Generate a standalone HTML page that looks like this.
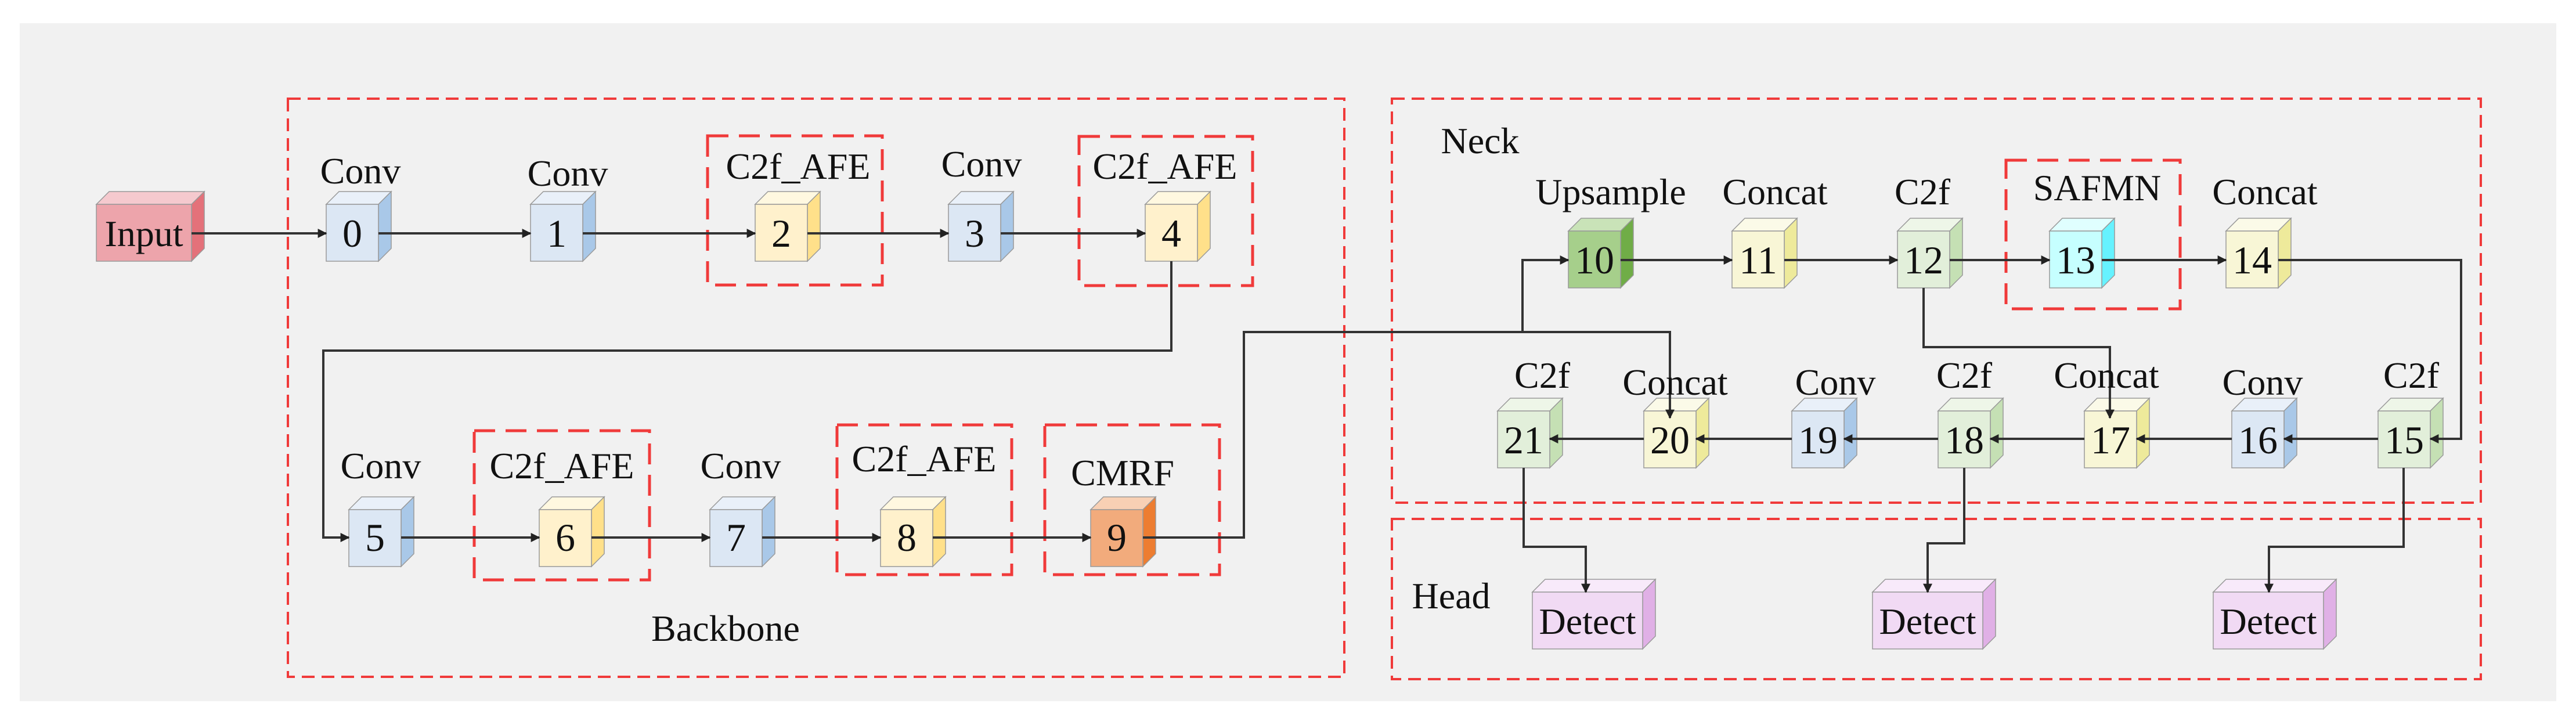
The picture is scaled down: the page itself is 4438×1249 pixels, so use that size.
<!DOCTYPE html>
<html><head><meta charset="utf-8"><style>
html,body{margin:0;padding:0;background:#fff;}
svg{display:block;}
text{font-family:"Liberation Serif",serif;fill:#111;}
.l{font-size:64px;text-anchor:middle;}
.n{font-size:68px;text-anchor:middle;}
.w{fill:none;stroke:#333;stroke-width:4;}
.r{fill:none;stroke:#f03a3a;stroke-width:4;stroke-dasharray:22 12;}
.rb{fill:none;stroke:#f03a3a;stroke-width:5;stroke-dasharray:36 18;}
.e{stroke:#999;stroke-width:1.5;}
</style></head><body>
<svg width="4438" height="1249" viewBox="0 0 4438 1249" xmlns="http://www.w3.org/2000/svg">
<defs><marker id="a" viewBox="0 0 10 10" refX="9" refY="5" markerWidth="4" markerHeight="4" orient="auto"><path d="M0,0L10,5L0,10z" fill="#222"/></marker></defs>
<rect x="34" y="40" width="4370" height="1168" fill="#f1f1f1"/>
<rect class="r" x="496" y="170" width="1820" height="996"/>
<rect class="r" x="2398" y="170" width="1876" height="696"/>
<rect class="r" x="2398" y="894" width="1876" height="276"/>
<rect class="rb" x="1219" y="234" width="301" height="257"/>
<rect class="rb" x="1859" y="235" width="299" height="257"/>
<rect class="rb" x="817" y="742" width="302" height="257"/>
<rect class="rb" x="1442" y="732" width="301" height="258"/>
<rect class="rb" x="1800" y="732" width="301" height="258"/>
<rect class="rb" x="3456" y="276" width="300" height="256"/>
<g class="e">
<polygon points="166,352 188,330 352,330 330,352" fill="#f5c9ce"/><polygon points="330,352 352,330 352,428 330,450" fill="#e4717a"/><rect x="166" y="352" width="164" height="98" fill="#eda4ab"/>
<polygon points="562,352 584,330 674,330 652,352" fill="#e9f0f9"/><polygon points="652,352 674,330 674,428 652,450" fill="#a9c8e8"/><rect x="562" y="352" width="90" height="98" fill="#dce7f4"/>
<polygon points="914,352 936,330 1026,330 1004,352" fill="#e9f0f9"/><polygon points="1004,352 1026,330 1026,428 1004,450" fill="#a9c8e8"/><rect x="914" y="352" width="90" height="98" fill="#dce7f4"/>
<polygon points="1634,352 1656,330 1746,330 1724,352" fill="#e9f0f9"/><polygon points="1724,352 1746,330 1746,428 1724,450" fill="#a9c8e8"/><rect x="1634" y="352" width="90" height="98" fill="#dce7f4"/>
<polygon points="1301,352 1323,330 1413,330 1391,352" fill="#fff8e0"/><polygon points="1391,352 1413,330 1413,428 1391,450" fill="#ffe08a"/><rect x="1301" y="352" width="90" height="98" fill="#fff1cc"/>
<polygon points="1973,352 1995,330 2085,330 2063,352" fill="#fff8e0"/><polygon points="2063,352 2085,330 2085,428 2063,450" fill="#ffe08a"/><rect x="1973" y="352" width="90" height="98" fill="#fff1cc"/>
<polygon points="601,878 623,856 713,856 691,878" fill="#e9f0f9"/><polygon points="691,878 713,856 713,954 691,976" fill="#a9c8e8"/><rect x="601" y="878" width="90" height="98" fill="#dce7f4"/>
<polygon points="929,878 951,856 1041,856 1019,878" fill="#fff8e0"/><polygon points="1019,878 1041,856 1041,954 1019,976" fill="#ffe08a"/><rect x="929" y="878" width="90" height="98" fill="#fff1cc"/>
<polygon points="1223,878 1245,856 1335,856 1313,878" fill="#e9f0f9"/><polygon points="1313,878 1335,856 1335,954 1313,976" fill="#a9c8e8"/><rect x="1223" y="878" width="90" height="98" fill="#dce7f4"/>
<polygon points="1517,878 1539,856 1629,856 1607,878" fill="#fff8e0"/><polygon points="1607,878 1629,856 1629,954 1607,976" fill="#ffe08a"/><rect x="1517" y="878" width="90" height="98" fill="#fff1cc"/>
<polygon points="1879,878 1901,856 1991,856 1969,878" fill="#f8d0b4"/><polygon points="1969,878 1991,856 1991,954 1969,976" fill="#ed7d31"/><rect x="1879" y="878" width="90" height="98" fill="#f2ab7c"/>
<polygon points="2702,398 2724,376 2814,376 2792,398" fill="#c9e3b8"/><polygon points="2792,398 2814,376 2814,474 2792,496" fill="#70ad47"/><rect x="2702" y="398" width="90" height="98" fill="#a6cf8b"/>
<polygon points="2984,398 3006,376 3096,376 3074,398" fill="#fbfae8"/><polygon points="3074,398 3096,376 3096,474 3074,496" fill="#eeea9b"/><rect x="2984" y="398" width="90" height="98" fill="#f8f6d6"/>
<polygon points="3269,398 3291,376 3381,376 3359,398" fill="#eef6e8"/><polygon points="3359,398 3381,376 3381,474 3359,496" fill="#c5e0b4"/><rect x="3269" y="398" width="90" height="98" fill="#e2efda"/>
<polygon points="3531,398 3553,376 3643,376 3621,398" fill="#e0ffff"/><polygon points="3621,398 3643,376 3643,474 3621,496" fill="#66f2ff"/><rect x="3531" y="398" width="90" height="98" fill="#c6ffff"/>
<polygon points="3835,398 3857,376 3947,376 3925,398" fill="#fbfae8"/><polygon points="3925,398 3947,376 3947,474 3925,496" fill="#eeea9b"/><rect x="3835" y="398" width="90" height="98" fill="#f8f6d6"/>
<polygon points="2580,708 2602,686 2692,686 2670,708" fill="#eef6e8"/><polygon points="2670,708 2692,686 2692,784 2670,806" fill="#c5e0b4"/><rect x="2580" y="708" width="90" height="98" fill="#e2efda"/>
<polygon points="2832,708 2854,686 2944,686 2922,708" fill="#fbfae8"/><polygon points="2922,708 2944,686 2944,784 2922,806" fill="#eeea9b"/><rect x="2832" y="708" width="90" height="98" fill="#f8f6d6"/>
<polygon points="3087,708 3109,686 3199,686 3177,708" fill="#e9f0f9"/><polygon points="3177,708 3199,686 3199,784 3177,806" fill="#a9c8e8"/><rect x="3087" y="708" width="90" height="98" fill="#dce7f4"/>
<polygon points="3339,708 3361,686 3451,686 3429,708" fill="#eef6e8"/><polygon points="3429,708 3451,686 3451,784 3429,806" fill="#c5e0b4"/><rect x="3339" y="708" width="90" height="98" fill="#e2efda"/>
<polygon points="3591,708 3613,686 3703,686 3681,708" fill="#fbfae8"/><polygon points="3681,708 3703,686 3703,784 3681,806" fill="#eeea9b"/><rect x="3591" y="708" width="90" height="98" fill="#f8f6d6"/>
<polygon points="3845,708 3867,686 3957,686 3935,708" fill="#e9f0f9"/><polygon points="3935,708 3957,686 3957,784 3935,806" fill="#a9c8e8"/><rect x="3845" y="708" width="90" height="98" fill="#dce7f4"/>
<polygon points="4097,708 4119,686 4209,686 4187,708" fill="#eef6e8"/><polygon points="4187,708 4209,686 4209,784 4187,806" fill="#c5e0b4"/><rect x="4097" y="708" width="90" height="98" fill="#e2efda"/>
<polygon points="2640,1020 2662,998 2852,998 2830,1020" fill="#f8eafa"/><polygon points="2830,1020 2852,998 2852,1096 2830,1118" fill="#e0b0e6"/><rect x="2640" y="1020" width="190" height="98" fill="#f1daf4"/>
<polygon points="3226,1020 3248,998 3438,998 3416,1020" fill="#f8eafa"/><polygon points="3416,1020 3438,998 3438,1096 3416,1118" fill="#e0b0e6"/><rect x="3226" y="1020" width="190" height="98" fill="#f1daf4"/>
<polygon points="3813,1020 3835,998 4025,998 4003,1020" fill="#f8eafa"/><polygon points="4003,1020 4025,998 4025,1096 4003,1118" fill="#e0b0e6"/><rect x="3813" y="1020" width="190" height="98" fill="#f1daf4"/>
</g>
<g class="w" marker-end="url(#a)">
<path d="M330,402H562"/><path d="M652,402H914"/><path d="M1004,402H1301"/><path d="M1391,402H1634"/><path d="M1724,402H1973"/>
<path d="M2018,450V604H557V926H601"/>
<path d="M691,926H929"/><path d="M1019,926H1223"/><path d="M1313,926H1517"/><path d="M1607,926H1879"/>
<path d="M1969,926H2143V572H2877V720"/>
<path d="M2623,572V448H2702"/>
<path d="M2792,448H2984"/><path d="M3074,448H3269"/><path d="M3359,448H3531"/><path d="M3621,448H3835"/>
<path d="M3925,448H4240V756H4187"/>
<path d="M4097,756H3935"/><path d="M3845,756H3681"/><path d="M3591,756H3429"/><path d="M3339,756H3177"/><path d="M3087,756H2922"/><path d="M2832,756H2670"/>
<path d="M3314,496V598H3635V720"/>
<path d="M4141,806V942H3909V1020"/>
<path d="M3384,806V936H3321V1020"/>
<path d="M2625,806V942H2732V1020"/>
</g>
<text class="l" x="248" y="424">Input</text>
<text class="n" x="607" y="425">0</text><text class="n" x="959" y="425">1</text><text class="n" x="1346" y="425">2</text><text class="n" x="1679" y="425">3</text><text class="n" x="2018" y="425">4</text>
<text class="n" x="646" y="949">5</text><text class="n" x="974" y="949">6</text><text class="n" x="1268" y="949">7</text><text class="n" x="1562" y="949">8</text><text class="n" x="1924" y="949">9</text>
<text class="n" x="2747" y="471">10</text><text class="n" x="3029" y="471">11</text><text class="n" x="3314" y="471">12</text><text class="n" x="3576" y="471">13</text><text class="n" x="3880" y="471">14</text>
<text class="n" x="2625" y="781">21</text><text class="n" x="2877" y="781">20</text><text class="n" x="3132" y="781">19</text><text class="n" x="3384" y="781">18</text><text class="n" x="3636" y="781">17</text><text class="n" x="3890" y="781">16</text><text class="n" x="4142" y="781">15</text>
<text class="l" x="2735" y="1092">Detect</text><text class="l" x="3321" y="1092">Detect</text><text class="l" x="3908" y="1092">Detect</text>
<text class="l" x="621" y="316">Conv</text><text class="l" x="978" y="320">Conv</text><text class="l" x="1375" y="308">C2f_AFE</text><text class="l" x="1691" y="304">Conv</text><text class="l" x="2007" y="308">C2f_AFE</text>
<text class="l" x="656" y="824">Conv</text><text class="l" x="968" y="824">C2f_AFE</text><text class="l" x="1276" y="824">Conv</text><text class="l" x="1592" y="812">C2f_AFE</text><text class="l" x="1934" y="836">CMRF</text>
<text class="l" x="1250" y="1104">Backbone</text>
<text class="l" x="2550" y="264">Neck</text>
<text class="l" x="2775" y="352">Upsample</text><text class="l" x="3058" y="352">Concat</text><text class="l" x="3312" y="352">C2f</text><text class="l" x="3613" y="345">SAFMN</text><text class="l" x="3902" y="352">Concat</text>
<text class="l" x="2657" y="668">C2f</text><text class="l" x="2886" y="680">Concat</text><text class="l" x="3162" y="680">Conv</text><text class="l" x="3384" y="668">C2f</text><text class="l" x="3629" y="668">Concat</text><text class="l" x="3898" y="680">Conv</text><text class="l" x="4154" y="668">C2f</text>
<text class="l" x="2500" y="1048">Head</text>
</svg>
</body></html>
